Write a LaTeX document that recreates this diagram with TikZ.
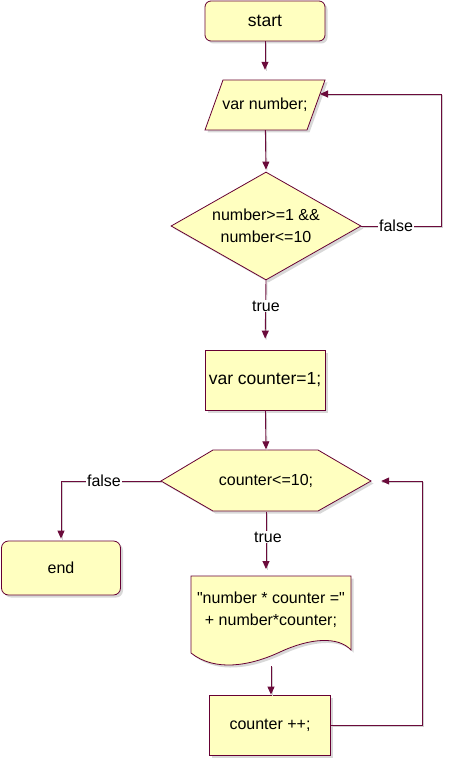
\documentclass[tikz,border=0pt]{standalone}
\usepackage{fontspec}
\setmainfont{Liberation Sans}[Ligatures=TeXOff]
\usetikzlibrary{arrows.meta,shapes.geometric,shadows}
\definecolor{fillY}{HTML}{FFFFC0}
\definecolor{strokeM}{HTML}{660033}
\definecolor{lineM}{HTML}{6B0B3B}
\begin{document}
\begin{tikzpicture}[x=1pt,y=-1pt,
  shp/.style={draw=strokeM, fill=fillY, line width=0.8pt,
    drop shadow={shadow xshift=2.5pt,shadow yshift=-2.5pt,fill=black!30}},
  txt/.style={font=\fontsize{16}{22}\selectfont, align=center, inner sep=0pt},
  bigtxt/.style={font=\fontsize{17.5}{22}\selectfont, align=center, inner sep=0pt},
  conn/.style={draw=lineM, line width=0.9pt, -{Triangle[length=8pt,width=7pt]},
    preaction={draw=black!18, line width=0.9pt, arrows=-, transform canvas={xshift=1pt,yshift=-1pt}}},
  lbl/.style={fill=white, font=\fontsize{16}{20}\selectfont, inner sep=1pt}
]
\useasboundingbox (0,0) rectangle (451,759);

% start
\node[shp, rounded corners=6pt, minimum width=120, minimum height=40, bigtxt] (start) at (265,21) {start};

% parallelogram
\path[shp] (223,80) -- (325,80) -- (307,130) -- (205,130) -- cycle;
\node[txt, minimum width=120, minimum height=50] (num) at (265,105) {var number;};
\coordinate (numin) at (320,94);

% decision diamond
\node[shp, diamond, aspect=1.76, minimum width=190, minimum height=108, txt] (dec) at (266,226) {number>=1 \&\&\\number<=10};

% init
\node[shp, minimum width=120, minimum height=60, bigtxt] (init) at (265,380) {var counter=1;};

% hexagon
\path[shp] (161,481) -- (213,450) -- (318,450) -- (371,481) -- (318,511) -- (213,511) -- cycle;
\node[txt, minimum width=210, minimum height=61] (cnt) at (266,481) {counter<=10;};

% end
\node[shp, rounded corners=7pt, minimum width=119, minimum height=54, txt] (end) at (61,568) {end};

% document
\path[shp] (191,576) -- (351,576) -- (351,650) .. controls (338,636) and (310,638) .. (280,652)
   .. controls (250,666) and (215,672) .. (191,653) -- cycle;
\node[txt] (out) at (271,610) {"number * counter ="\\+ number*counter;};
\coordinate (doctop) at (271,576);
\coordinate (docb) at (271,666);

% counter++
\node[shp, minimum width=121, minimum height=60, txt] (inc) at (270,725) {counter ++;};

% connectors
\draw[conn, shorten >=10pt] (start) -- (start |- num.north);
\draw[conn, shorten >=2pt] (num) -- (dec.north);
\draw[conn] (dec.east) -| (441,94) -- (numin);
\node[lbl] (f1) at (396,226) {false};
\draw[conn, shorten >=11pt] (dec.south) -- (init.north);
\node[lbl] (t1) at (266,306) {true};
\draw[conn, shorten >=1pt] (init) -- (cnt.north);
\draw[conn, shorten >=2pt] (cnt.west) -| (end.north);
\node[lbl] (f2) at (104,481) {false};
\draw[conn, shorten >=7pt] (cnt.south) -- (cnt.south |- doctop);
\node[lbl] (t2) at (268,537) {true};
\draw[conn] (docb) -- (docb |- inc.north);
\draw[conn, shorten >=10pt] (inc.east) -| (422,481) -- (cnt.east);
\end{tikzpicture}
\end{document}
